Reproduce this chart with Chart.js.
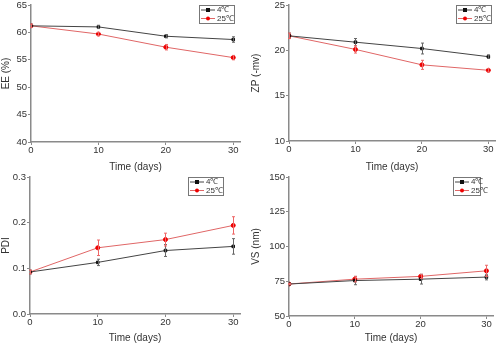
<!DOCTYPE html>
<html>
<head>
<meta charset="utf-8">
<script src="https://cdn.jsdelivr.net/npm/chart.js@4"></script>
<style>
  html, body { margin: 0; padding: 0; background: #fff; }
  #wrap { position: relative; width: 500px; height: 343px; overflow: hidden; }
  .panel { position: absolute; }
</style>
</head>
<body>
<div id="wrap">
  <div class="panel" style="left:0;top:0;width:250px;height:172px"><canvas id="ee"></canvas></div>
  <div class="panel" style="left:250px;top:0;width:250px;height:172px"><canvas id="zp"></canvas></div>
  <div class="panel" style="left:0;top:172px;width:250px;height:171px"><canvas id="pdi"></canvas></div>
  <div class="panel" style="left:250px;top:172px;width:250px;height:171px"><canvas id="vs"></canvas></div>
</div>
<script>
const days = [0, 10, 20, 30]
const seriesNames = ['4\u2103', '25\u2103']

const ee4 = [61.2, 61.0, 59.3, 58.7]
const ee25 = [61.2, 59.7, 57.3, 55.4]
const ee4Err = [0.3, 0.3, 0.3, 0.5]
const ee25Err = [0.3, 0.3, 0.5, 0.4]

const zp4 = [21.6, 20.9, 20.2, 19.3]
const zp25 = [21.6, 20.1, 18.4, 17.8]
const zp4Err = [0.3, 0.4, 0.6, 0.2]
const zp25Err = [0.3, 0.4, 0.5, 0.2]

const pdi4 = [0.092, 0.113, 0.139, 0.148]
const pdi25 = [0.092, 0.145, 0.163, 0.194]
const pdi4Err = [0.004, 0.007, 0.013, 0.017]
const pdi25Err = [0.004, 0.017, 0.014, 0.019]

const vs4 = [73, 75.5, 76.5, 78]
const vs25 = [73, 76.5, 78.5, 82.5]
const vs4Err = [0.5, 3, 3.5, 2]
const vs25Err = [0.5, 2, 1.5, 4]

const FONT = 'Liberation Sans, Arial, sans-serif'
const AXIS = '#8a8a8a'
const TEXT = '#333'

// error bars drawn from dataset.errors through the scales
const errorBars = {
  id: 'errorBars',
  afterDatasetsDraw(chart) {
    const ctx = chart.ctx
    const x = chart.scales.x, y = chart.scales.y
    chart.data.datasets.forEach(ds => {
      if (!ds.errors) return
      ctx.save()
      ctx.strokeStyle = ds.errColor
      ctx.lineWidth = 1
      ds.data.forEach((p, i) => {
        const px = Math.round(x.getPixelForValue(p.x)) + 0.5
        const top = y.getPixelForValue(p.y + ds.errors[i])
        const bot = y.getPixelForValue(p.y - ds.errors[i])
        ctx.beginPath()
        ctx.moveTo(px, top); ctx.lineTo(px, bot)
        ctx.moveTo(px - 1.5, top); ctx.lineTo(px + 1.5, top)
        ctx.moveTo(px - 1.5, bot); ctx.lineTo(px + 1.5, bot)
        ctx.stroke()
      })
      ctx.restore()
    })
  }
}

// boxed legend in the top right corner
const boxLegend = {
  id: 'boxLegend',
  afterDraw(chart, args, opts) {
    const ctx = chart.ctx
    const a = chart.chartArea
    const x0 = a.left + opts.x, y0 = a.top + opts.y
    const w = opts.w, h = 18
    ctx.save()
    ctx.strokeStyle = '#777'
    ctx.lineWidth = 1
    ctx.strokeRect(x0 + 0.5, y0 + 0.5, w, h)
    ctx.font = '8px ' + FONT
    ctx.textBaseline = 'middle'
    chart.data.datasets.forEach((ds, i) => {
      const ly = y0 + 5 + i * 8.5
      ctx.strokeStyle = ds.borderColor
      ctx.beginPath()
      ctx.moveTo(x0 + 2, ly); ctx.lineTo(x0 + 16, ly)
      ctx.stroke()
      ctx.fillStyle = ds.pointBackgroundColor
      if (ds.pointStyle === 'rect') {
        ctx.fillRect(x0 + 7, ly - 2, 4, 4)
      } else {
        ctx.beginPath(); ctx.arc(x0 + 9, ly, 2, 0, Math.PI * 2); ctx.fill()
      }
      ctx.fillStyle = TEXT
      ctx.fillText(ds.label, x0 + 18, ly)
    })
    ctx.restore()
  }
}

function makeChart(id, s4, s25, e4, e25, opt) {
  new Chart(document.getElementById(id), {
    type: 'line',
    data: {
      datasets: [
        {
          label: seriesNames[0],
          data: s4.map((v, i) => ({ x: days[i], y: v })),
          errors: e4, errColor: '#666',
          borderColor: '#444', borderWidth: 1,
          pointStyle: 'rect', pointRadius: 1.8,
          pointBackgroundColor: '#111', pointBorderColor: '#111'
        },
        {
          label: seriesNames[1],
          data: s25.map((v, i) => ({ x: days[i], y: v })),
          errors: e25, errColor: '#e66',
          borderColor: '#e06666', borderWidth: 1,
          pointStyle: 'circle', pointRadius: 2,
          pointBackgroundColor: '#e00', pointBorderColor: '#e00'
        }
      ]
    },
    options: {
      responsive: true,
      maintainAspectRatio: false,
      animation: false,
      layout: { padding: opt.pad },
      plugins: {
        legend: { display: false },
        tooltip: { enabled: false },
        boxLegend: opt.legend
      },
      scales: {
        x: {
          type: 'linear', min: 0, max: opt.xMax,
          afterBuildTicks: s => { s.ticks = days.map(v => ({ value: v })) },
          afterFit: s => { s.height = opt.xH; s.paddingRight = 0; s.paddingLeft = 0 },
          grid: { display: true, drawOnChartArea: false, drawTicks: true, tickLength: 3, color: AXIS },
          border: { color: AXIS, width: 1.5 },
          ticks: { color: TEXT, font: { family: FONT, size: 9.5 }, padding: 0, maxRotation: 0 },
          title: { display: true, text: 'Time (days)', color: TEXT, font: { family: FONT, size: 10 }, padding: { top: 5, bottom: -1.5 } }
        },
        y: {
          min: opt.yMin, max: opt.yMax,
          afterBuildTicks: s => { s.ticks = opt.yTicks.map(v => ({ value: v })) },
          afterFit: s => { s.width = opt.yW; s.paddingTop = 0; s.paddingBottom = 0 },
          grid: { display: true, drawOnChartArea: false, drawTicks: true, tickLength: 3, color: AXIS },
          border: { color: AXIS, width: 1.5 },
          ticks: { color: TEXT, font: { family: FONT, size: 9.5 }, padding: 1, callback: opt.fmt },
          title: { display: true, text: opt.yTitle, color: TEXT, font: { family: FONT, size: 10 }, padding: 0 }
        }
      }
    },
    plugins: [errorBars, boxLegend]
  })
}

const eeTicks = [40, 45, 50, 55, 60, 65]
const zpTicks = [10, 15, 20, 25]
const pdiTicks = [0, 0.1, 0.2, 0.3]
const vsTicks = [50, 75, 100, 125, 150]

makeChart('ee', ee4, ee25, ee4Err, ee25Err, {
  pad: { left: 0, top: 4, right: 10, bottom: 0 }, xMax: 31, xH: 30, yW: 31,
  yMin: 40, yMax: 65, yTicks: eeTicks, yTitle: 'EE (%)', fmt: v => v,
  legend: { x: 168, y: 0, w: 35 }
})
makeChart('zp', zp4, zp25, zp4Err, zp25Err, {
  pad: { left: 0, top: 4, right: 0, bottom: 0 }, xMax: 31, xH: 31, yW: 39,
  yMin: 10, yMax: 25, yTicks: zpTicks, yTitle: 'ZP (-mv)', fmt: v => v,
  legend: { x: 167, y: 0, w: 35 }
})
makeChart('pdi', pdi4, pdi25, pdi4Err, pdi25Err, {
  pad: { left: 0, top: 5, right: 10, bottom: 0 }, xMax: 31, xH: 29, yW: 30,
  yMin: 0, yMax: 0.3, yTicks: pdiTicks, yTitle: 'PDI', fmt: v => v.toFixed(1),
  legend: { x: 158, y: 0, w: 35 }
})
makeChart('vs', vs4, vs25, vs4Err, vs25Err, {
  pad: { left: 0, top: 5, right: 7, bottom: 0 }, xMax: 31, xH: 27, yW: 39,
  yMin: 50, yMax: 150, yTicks: vsTicks, yTitle: 'VS (nm)', fmt: v => v,
  legend: { x: 164, y: 0, w: 27 }
})
</script>
</body>
</html>
